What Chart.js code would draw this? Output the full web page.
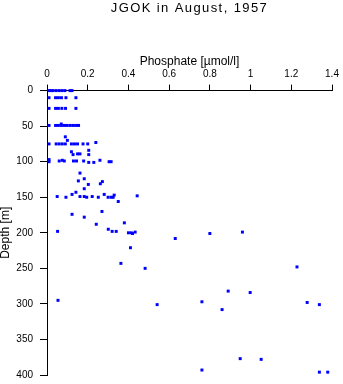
<!DOCTYPE html>
<html>
<head>
<meta charset="utf-8">
<script src="https://cdn.jsdelivr.net/npm/chart.js@4/dist/chart.umd.min.js"></script>
<style>
html,body{margin:0;padding:0;background:#fff;}
#wrap{width:343px;height:384px;}
</style>
</head>
<body>
<div id="wrap"><canvas id="c" width="343" height="384"></canvas></div>
<script>
// ---- data ----
const chartTitle = "JGOK in August, 1957";
const xTitle = "Phosphate [\u00b5mol/l]";
const yTitle = "Depth [m]";
const xTickLabels = ["0", "0.2", "0.4", "0.6", "0.8", "1", "1.2", "1.4"];
const yTickLabels = ["0", "50", "100", "150", "200", "250", "300", "350", "400"];

const phosphate = [
  0.01, 0.02, 0.03, 0.045, 0.06, 0.074, 0.088, 0.113, 0.123,
  0.01, 0.042, 0.056, 0.071, 0.093, 0.142,
  0.01, 0.042, 0.056, 0.073, 0.091, 0.142,
  0.01, 0.042, 0.056, 0.071, 0.086, 0.1, 0.115, 0.13, 0.145, 0.155, 0.07,
  0.09, 0.1,
  0.01, 0.045, 0.06, 0.075, 0.09, 0.12, 0.135, 0.15, 0.177, 0.2, 0.24,
  0.12, 0.128, 0.15, 0.162, 0.205, 0.205,
  0.01, 0.01, 0.06, 0.075, 0.085, 0.13, 0.145, 0.18, 0.205, 0.23, 0.26, 0.305, 0.315,
  0.162, 0.183, 0.154, 0.203, 0.183, 0.262, 0.272,
  0.05, 0.093, 0.123, 0.142, 0.162, 0.183, 0.195, 0.222, 0.252, 0.281, 0.3, 0.315, 0.325, 0.33, 0.443, 0.35,
  0.27, 0.123, 0.183, 0.242, 0.38, 0.301, 0.32, 0.34, 0.052, 0.4, 0.414, 0.42, 0.433, 0.41, 0.63, 0.8, 0.96,
  0.363, 0.482, 1.228,
  0.054, 0.541, 0.761, 0.86, 0.89, 0.998, 1.278, 1.338,
  0.761, 0.949, 1.052, 1.338, 1.379
];
const depth = [
  0, 0, 0, 0, 0, 0, 0, 0, 0,
  10, 10, 10, 10, 10, 10,
  25, 25, 25, 25, 25, 25,
  49, 49, 49, 49, 49, 49, 49, 49, 49, 49, 47,
  65, 70,
  75, 75, 75, 75, 75, 75, 75, 75, 75, 75, 73,
  86, 90, 89, 89, 84, 90,
  97, 100, 99, 98, 99, 99, 99, 99, 101, 101, 98, 100, 100,
  116, 124, 127, 132, 138, 131, 128,
  149, 150, 146, 143, 149, 149, 150, 149, 150, 146, 150, 150, 150, 147, 148, 156,
  170, 174, 178, 188, 186, 195, 198, 198, 198, 200, 200, 201, 199, 221, 208, 201, 199,
  243, 250, 248,
  295, 301, 297, 308, 282, 284, 298, 301,
  393, 377, 378, 396, 396
];

const points = phosphate.map((p, i) => ({x: p, y: depth[i]}));
const FONT = "'Liberation Sans', Arial, Helvetica, sans-serif";

// centre the title over the plot area and space its letters a little
const titleTweak = {
  id: 'titleTweak',
  afterLayout(chart) {
    const tb = chart.titleBlock;
    if (!tb) return;
    tb.left = chart.chartArea.left;
    tb.right = chart.chartArea.right;
    if (!tb._wrapped) {
      const orig = tb.draw;
      tb.draw = function () {
        const ctx = this.ctx;
        ctx.save();
        ctx.letterSpacing = '1.4px';
        orig.apply(this, arguments);
        ctx.restore();
      };
      tb._wrapped = true;
    }
  }
};

new Chart(document.getElementById('c'), {
  type: 'scatter',
  data: {
    datasets: [{
      data: points,
      backgroundColor: '#0000ff',
      borderColor: '#0000ff',
      borderWidth: 0,
      pointStyle: 'rect',
      pointRadius: 2.1,
      pointHoverRadius: 2.1,
      clip: false
    }]
  },
  plugins: [titleTweak],
  options: {
    responsive: false,
    animation: false,
    events: [],
    layout: {padding: {left: 0, right: 11, top: 0, bottom: 9}},
    plugins: {
      legend: {display: false},
      tooltip: {enabled: false},
      title: {
        display: true,
        text: chartTitle,
        color: '#000',
        font: {family: FONT, size: 13, weight: 'normal', lineHeight: 1.2},
        padding: {top: 1, bottom: 0}
      }
    },
    scales: {
      x: {
        type: 'linear',
        position: 'top',
        min: 0,
        max: 1.4,
        afterBuildTicks: s => { s.ticks = xTickLabels.map(v => ({value: parseFloat(v)})); },
        ticks: {
          color: '#000',
          font: {family: FONT, size: 10},
          padding: 4,
          maxRotation: 0,
          autoSkip: false,
          callback: (v, i) => xTickLabels[i]
        },
        grid: {drawOnChartArea: false, drawTicks: true, tickLength: 6, color: '#000', lineWidth: 1},
        border: {display: true, color: '#000', width: 1},
        title: {
          display: true,
          text: xTitle,
          color: '#000',
          font: {family: FONT, size: 12, lineHeight: 1.2},
          padding: {top: 38, bottom: 0}
        },
        afterFit: s => { s.height = 74; s.paddingLeft = 0; s.paddingRight = 0; }
      },
      y: {
        type: 'linear',
        position: 'left',
        reverse: true,
        min: 0,
        max: 400,
        afterBuildTicks: s => { s.ticks = yTickLabels.map(v => ({value: parseFloat(v)})); },
        ticks: {
          color: '#000',
          font: {family: FONT, size: 10},
          padding: 7,
          autoSkip: false,
          callback: (v, i) => yTickLabels[i]
        },
        grid: {drawOnChartArea: false, drawTicks: true, tickLength: 7, color: '#000', lineWidth: 1},
        border: {display: true, color: '#000', width: 1},
        title: {
          display: true,
          text: yTitle,
          color: '#000',
          font: {family: FONT, size: 12, lineHeight: 1},
          padding: {top: 0, bottom: 0}
        },
        afterFit: s => { s.width = 47; s.paddingTop = 0; s.paddingBottom = 0; }
      }
    }
  }
});
</script>
</body>
</html>
